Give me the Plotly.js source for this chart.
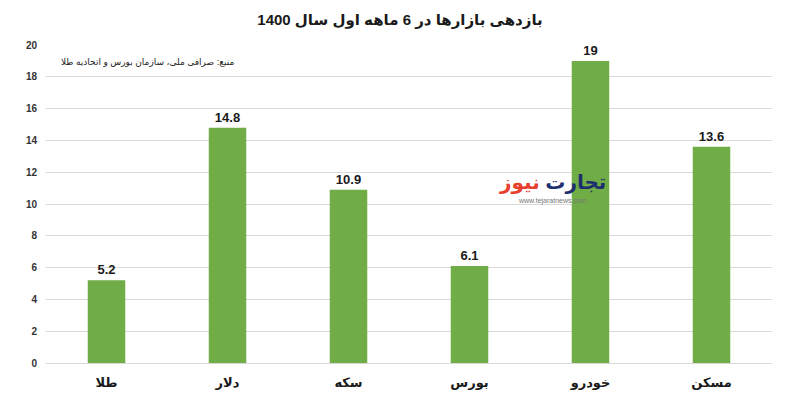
<!DOCTYPE html>
<html>
<head>
<meta charset="utf-8">
<script src="https://cdn.plot.ly/plotly-3.0.1.min.js"></script>
<style>html,body{margin:0;padding:0;background:#fff;}#chart{width:800px;height:410px;}</style>
</head>
<body>
<div id="chart"></div>
<script>
const categories = ["طلا", "دلار", "سکه", "بورس", "خودرو", "مسکن"];
const returns = [5.2, 14.8, 10.9, 6.1, 19, 13.6];
const valueLabels = ["5.2", "14.8", "10.9", "6.1", "19", "13.6"];
const yTicks = [0, 2, 4, 6, 8, 10, 12, 14, 16, 18, 20];

const FONT = "Liberation Sans, DejaVu Sans, Arial, sans-serif";

const trace = {
  type: "bar",
  x: categories,
  y: returns,
  text: valueLabels,
  textposition: "outside",
  cliponaxis: false,
  textfont: {family: FONT, size: 13, color: "#1a1a1a", weight: "bold"},
  marker: {color: "#70AD47"},
  hoverinfo: "x+y"
};

const layout = {
  width: 800,
  height: 410,
  margin: {l: 46, r: 28, t: 45, b: 47},
  paper_bgcolor: "#ffffff",
  plot_bgcolor: "#ffffff",
  bargap: 0.69,
  showlegend: false,
  title: {
    text: "<b>بازدهی بازارها در 6 ماهه اول سال 1400</b>",
    x: 0.5, xanchor: "center", y: 0.952, yanchor: "middle",
    font: {family: FONT, size: 15, color: "#1a1a1a"}
  },
  xaxis: {
    type: "category",
    tickfont: {family: FONT, size: 13, color: "#1a1a1a", weight: "bold"},
    showgrid: false,
    zeroline: false,
    showline: false,
    ticks: "",
    ticklen: 0,
    ticklabelstandoff: 10
  },
  yaxis: {
    range: [0, 20],
    tickvals: yTicks,
    ticktext: yTicks.map(String),
    tickfont: {family: FONT, size: 10, color: "#333333", weight: "bold"},
    showgrid: true,
    gridcolor: "#d9d9d9",
    gridwidth: 1,
    zeroline: true,
    zerolinecolor: "#d9d9d9",
    zerolinewidth: 1,
    showline: false,
    ticks: "",
    ticklabelstandoff: 8,
    fixedrange: true
  },
  annotations: [
    {
      text: "منبع: صرافی ملی، سازمان بورس و اتحادیه طلا",
      xref: "paper", yref: "paper", x: 0.262, y: 0.947,
      xanchor: "right", yanchor: "middle", showarrow: false,
      font: {family: FONT, size: 9, color: "#222222"}
    },
    {
      text: "<span style='color:#1d2f6f'>تجارت</span> <span style='color:#e8402f'>نیوز</span>",
      xref: "paper", yref: "paper", x: 0.697, y: 0.568,
      xanchor: "center", yanchor: "middle", showarrow: false,
      font: {family: FONT, size: 20, weight: "bold"}
    },
    {
      text: "www.tejaratnews.com",
      xref: "paper", yref: "paper", x: 0.697, y: 0.508,
      xanchor: "center", yanchor: "middle", showarrow: false,
      font: {family: FONT, size: 7, color: "#777777"}
    }
  ]
};

Plotly.newPlot("chart", [trace], layout, {staticPlot: true, displayModeBar: false});
</script>
</body>
</html>
